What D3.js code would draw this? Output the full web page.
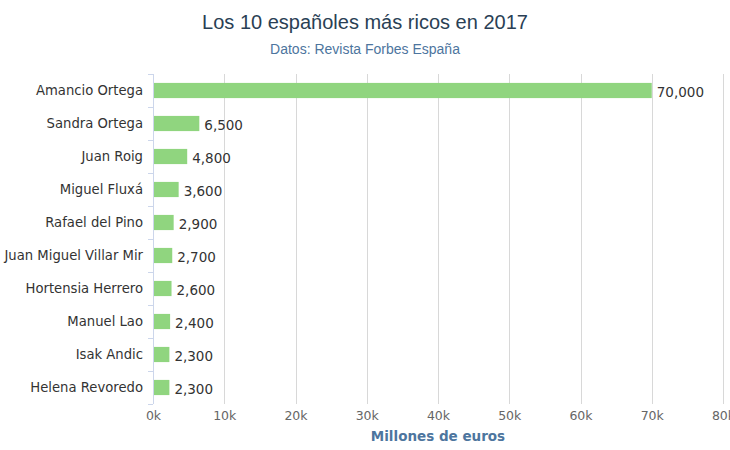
<!DOCTYPE html>
<html><head><meta charset="utf-8">
<script src="https://cdn.jsdelivr.net/npm/d3@7"></script>
<style>body{margin:0;background:#fff}svg{display:block}</style>
</head><body>
<svg id="c" width="730" height="450"></svg>
<script>
const names = ["Amancio Ortega","Sandra Ortega","Juan Roig","Miguel Fluxá","Rafael del Pino","Juan Miguel Villar Mir","Hortensia Herrero","Manuel Lao","Isak Andic","Helena Revoredo"];
const values = [70000,6500,4800,3600,2900,2700,2600,2400,2300,2300];
const xTicks = [0,10000,20000,30000,40000,50000,60000,70000,80000];
const title = "Los 10 españoles más ricos en 2017";
const subtitle = "Datos: Revista Forbes España";
const xTitle = "Millones de euros";

const svg = d3.select("#c");
const m = {l:153, r:723, t:74, b:404};
const x = d3.scaleLinear().domain([0,80000]).range([m.l, m.r]);
const y = d3.scaleBand().domain(names).range([m.t, m.b]).paddingInner(0.54).paddingOuter(0.27);
const font = "'DejaVu Sans', sans-serif";

svg.append("text").attr("x",365).attr("y",29).attr("text-anchor","middle")
  .attr("font-family","'Liberation Sans', Arial, sans-serif").attr("font-size",20).attr("fill","#2a3f55").text(title);
svg.append("text").attr("x",365).attr("y",54).attr("text-anchor","middle")
  .attr("font-family","'Liberation Sans', Arial, sans-serif").attr("font-size",14).attr("fill","#4d759e").text(subtitle);

// grid
svg.append("g").selectAll("line").data(xTicks.slice(1)).join("line")
  .attr("x1",d=>Math.round(x(d))+0.5).attr("x2",d=>Math.round(x(d))+0.5)
  .attr("y1",m.t).attr("y2",m.b).attr("stroke","#d8d8d8").attr("stroke-width",1);

// x axis labels
const xa = svg.append("g").attr("transform",`translate(0,${m.b})`)
  .call(d3.axisBottom(x).tickValues(xTicks).tickFormat(d=>(d/1000)+"k").tickSize(0).tickPadding(7));
xa.select(".domain").remove();
xa.selectAll("text").attr("font-family",font).attr("font-size",12.5).attr("fill","#666");

svg.append("text").attr("x",(m.l+m.r)/2).attr("y",441).attr("text-anchor","middle")
  .attr("font-family",font).attr("font-size",13.5).attr("font-weight","bold").attr("fill","#4d759e").text(xTitle);

// y axis line + ticks between categories
const step = (m.b-m.t)/names.length;
svg.append("line").attr("x1",m.l+0.5).attr("x2",m.l+0.5).attr("y1",m.t).attr("y2",m.b).attr("stroke","#ccd6eb");
svg.append("g").selectAll("line").data(d3.range(names.length+1)).join("line")
  .attr("x1",m.l-5).attr("x2",m.l).attr("y1",i=>Math.round(m.t+i*step)+0.5).attr("y2",i=>Math.round(m.t+i*step)+0.5)
  .attr("stroke","#ccd6eb");

// category labels
svg.append("g").selectAll("text").data(names).join("text")
  .attr("x",m.l-10).attr("y",d=>y(d)+y.bandwidth()/2).attr("dy","0.35em").attr("text-anchor","end")
  .attr("font-family",font).attr("font-size",13.2).attr("fill","#333").text(d=>d);

// bars
svg.append("g").selectAll("rect").data(values).join("rect")
  .attr("x",x(0)+1).attr("y",(d,i)=>y(names[i])).attr("height",y.bandwidth())
  .attr("width",d=>x(d)-x(0)-1).attr("fill","#90d57f");

// value labels
svg.append("g").selectAll("text").data(values).join("text")
  .attr("x",d=>x(d)+5).attr("y",(d,i)=>y(names[i])+y.bandwidth()/2+2).attr("dy","0.35em")
  .attr("font-family",font).attr("font-size",13.5).attr("fill","#333").text(d=>d3.format(",")(d));
</script>
</body></html>
